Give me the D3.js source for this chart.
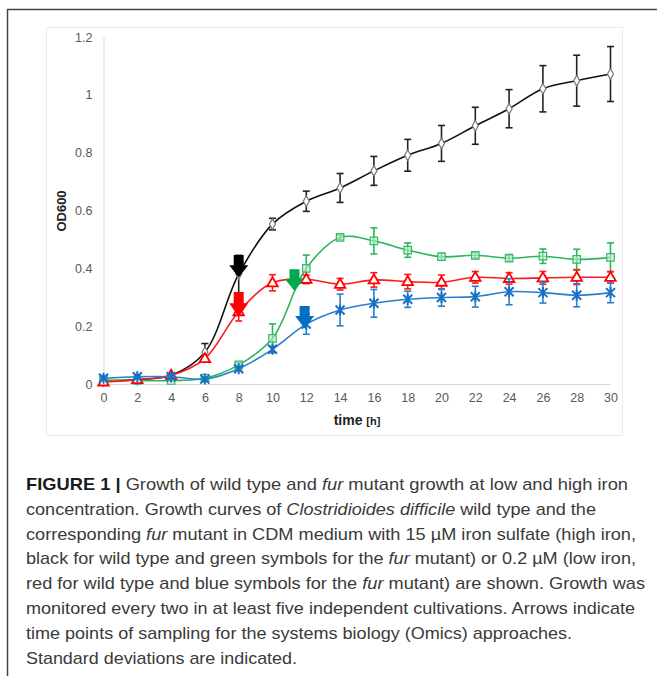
<!DOCTYPE html>
<html>
<head>
<meta charset="utf-8">
<script src="https://cdnjs.cloudflare.com/ajax/libs/d3/7.8.5/d3.min.js"></script>
<style>
  body { margin: 0; background: #fff; }
  svg { display: block; }
</style>
</head>
<body>
<div id="graph"></div>
<script>
// time points (h)
const times = [0, 2, 4, 6, 8, 10, 12, 14, 16, 18, 20, 22, 24, 26, 28, 30];

// OD600 means and standard deviations
const wtHigh   = [0.01, 0.015, 0.03, 0.11, 0.38, 0.553, 0.632, 0.678, 0.737, 0.791, 0.832, 0.893, 0.952, 1.021, 1.049, 1.072];
const wtHighSd = [0.005, 0.005, 0.005, 0.03, 0.065, 0.02, 0.035, 0.05, 0.05, 0.055, 0.062, 0.064, 0.066, 0.08, 0.088, 0.095];
const furHigh   = [0.014, 0.012, 0.012, 0.02, 0.066, 0.158, 0.40, 0.507, 0.495, 0.463, 0.44, 0.445, 0.435, 0.442, 0.431, 0.438];
const furHighSd = [0.003, 0.003, 0.003, 0.004, 0.008, 0.05, 0.046, 0.008, 0.045, 0.025, 0.012, 0.01, 0.01, 0.025, 0.035, 0.05];
const wtLow   = [0.007, 0.015, 0.03, 0.088, 0.25, 0.35, 0.362, 0.345, 0.36, 0.354, 0.352, 0.369, 0.365, 0.367, 0.369, 0.369];
const wtLowSd = [0.003, 0.004, 0.005, 0.01, 0.032, 0.028, 0.015, 0.02, 0.025, 0.025, 0.025, 0.02, 0.02, 0.022, 0.025, 0.02];
const furLow   = [0.02, 0.025, 0.025, 0.017, 0.053, 0.12, 0.207, 0.256, 0.279, 0.293, 0.299, 0.302, 0.319, 0.316, 0.307, 0.316];
const furLowSd = [0.004, 0.004, 0.004, 0.004, 0.006, 0.01, 0.035, 0.055, 0.048, 0.028, 0.03, 0.036, 0.045, 0.036, 0.04, 0.035];

// sampling arrows: time, top and tip in OD600
const arrowTimes = [8, 8, 11.3, 11.9];
const arrowTops  = [0.446, 0.318, 0.397, 0.27];
const arrowTips  = [0.368, 0.232, 0.322, 0.192];
const arrowColors = ["#000000", "#ff0000", "#00a84f", "#0070c0"];

const yTicks = [0, 0.2, 0.4, 0.6, 0.8, 1, 1.2];
const yTickLabels = ["0", "0.2", "0.4", "0.6", "0.8", "1", "1.2"];
const xTicks = times;

const captionLines = [
  [["b", "FIGURE 1 | "], ["", "Growth of wild type and "], ["i", "fur"], ["", " mutant growth at low and high iron"]],
  [["", "concentration. Growth curves of "], ["i", "Clostridioides difficile"], ["", " wild type and the"]],
  [["", "corresponding "], ["i", "fur"], ["", " mutant in CDM medium with 15 \u00b5M iron sulfate (high iron,"]],
  [["", "black for wild type and green symbols for the "], ["i", "fur"], ["", " mutant) or 0.2 \u00b5M (low iron,"]],
  [["", "red for wild type and blue symbols for the "], ["i", "fur"], ["", " mutant) are shown. Growth was"]],
  [["", "monitored every two in at least five independent cultivations. Arrows indicate"]],
  [["", "time points of sampling for the systems biology (Omics) approaches."]],
  [["", "Standard deviations are indicated."]]
];
// measured line widths of the caption in the figure
const captionWidths = [602, 570, 610, 610, 619, 609, 546, 271];

const width = 657, height = 676;
const svg = d3.select("#graph").append("svg")
  .attr("width", width)
  .attr("height", height)
  .style("font-family", "'Liberation Sans', Arial, sans-serif");

// outer frame (top and left rule)
svg.append("line").attr("x1", 7.5).attr("y1", 9.5).attr("x2", width).attr("y2", 9.5)
  .attr("stroke", "#444").attr("stroke-width", 1.5);
svg.append("line").attr("x1", 7.5).attr("y1", 9).attr("x2", 7.5).attr("y2", height)
  .attr("stroke", "#444").attr("stroke-width", 1.5);

// chart box
svg.append("rect").attr("x", 46.5).attr("y", 27.5).attr("width", 576).attr("height", 408)
  .attr("fill", "none").attr("stroke", "#ececec");

const xScale = d3.scaleLinear().domain([0, 30]).range([103.5, 610.5]);
const yScale = d3.scaleLinear().domain([0, 1.2]).range([384, 37]);

// axes
const xAxis = svg.append("g").attr("transform", "translate(0,384)")
  .call(d3.axisBottom(xScale).tickValues(xTicks).tickSize(0).tickPadding(9).tickFormat(d3.format("d")));
const yAxis = svg.append("g").attr("transform", "translate(103.5,0)")
  .call(d3.axisLeft(yScale).tickValues(yTicks).tickSize(0).tickPadding(11)
    .tickFormat((d, i) => yTickLabels[i]));
[xAxis, yAxis].forEach(g => {
  g.select(".domain").attr("stroke", "#d9d9d9");
  g.selectAll("text").attr("fill", "#595959").style("font-size", "12.5px")
    .style("font-family", "'Liberation Sans', Arial, sans-serif");
});

svg.append("text")
  .attr("transform", "translate(66,211) rotate(-90)")
  .attr("text-anchor", "middle")
  .attr("fill", "#222")
  .style("font-size", "13px")
  .style("font-weight", "bold")
  .text("OD600");

const xTitle = svg.append("text")
  .attr("x", 357).attr("y", 425)
  .attr("text-anchor", "middle")
  .attr("fill", "#222")
  .style("font-weight", "bold");
xTitle.append("tspan").style("font-size", "14px").text("time ");
xTitle.append("tspan").style("font-size", "11px").text("[h]");

const line = d3.line()
  .x((d, i) => xScale(times[i]))
  .y(d => yScale(d))
  .curve(d3.curveCatmullRom.alpha(0.5));

const series = [
  { values: wtHigh, sd: wtHighSd, color: "#111111", bar: "#222222", marker: "diamond", stroke: "#777", fill: "#ffffff" },
  { values: furHigh, sd: furHighSd, color: "#2bb55c", bar: "#2bb55c", marker: "square", stroke: "#33bb66", fill: "#c8ecd3" },
  { values: wtLow, sd: wtLowSd, color: "#ff1a1a", bar: "#ff1a1a", marker: "triangle", stroke: "#ff0000", fill: "#ffffff" },
  { values: furLow, sd: furLowSd, color: "#2a7fcc", bar: "#2a7fcc", marker: "star", stroke: "#1670c4", fill: "none" }
];

const plot = svg.append("g");

series.forEach(s => {
  const g = plot.append("g");
  g.append("path")
    .attr("d", line(s.values))
    .attr("fill", "none")
    .attr("stroke", s.color)
    .attr("stroke-width", 1.6);

  // error bars
  s.values.forEach((v, i) => {
    const x = xScale(times[i]);
    const y1 = yScale(v + s.sd[i]);
    const y2 = yScale(v - s.sd[i]);
    g.append("line").attr("x1", x).attr("x2", x).attr("y1", y1).attr("y2", y2)
      .attr("stroke", s.bar).attr("stroke-width", 1.6);
    [y1, y2].forEach(yy => {
      g.append("line").attr("x1", x - 3.5).attr("x2", x + 3.5).attr("y1", yy).attr("y2", yy)
        .attr("stroke", s.bar).attr("stroke-width", 1.6);
    });
  });

  // markers
  s.values.forEach((v, i) => {
    const x = xScale(times[i]), y = yScale(v);
    if (s.marker === "star") {
      const r = 4.5;
      g.append("path")
        .attr("d", `M${x - r},${y - r}L${x + r},${y + r}M${x - r},${y + r}L${x + r},${y - r}M${x},${y - r - 1}L${x},${y + r + 1}`)
        .attr("stroke", s.stroke).attr("stroke-width", 2).attr("fill", "none");
    } else {
      const type = s.marker === "diamond" ? d3.symbolDiamond
        : s.marker === "square" ? d3.symbolSquare : d3.symbolTriangle;
      const size = s.marker === "diamond" ? 32 : s.marker === "square" ? 56 : 48;
      g.append("path")
        .attr("transform", `translate(${x},${y + (s.marker === "triangle" ? 0.5 : 0)})`)
        .attr("d", d3.symbol().type(type).size(size)())
        .attr("fill", s.fill)
        .attr("fill-opacity", s.marker === "square" ? 0.6 : 1)
        .attr("stroke", s.stroke)
        .attr("stroke-width", s.marker === "triangle" ? 1.8 : 1.2);
    }
  });
});

// sampling arrows
arrowTimes.forEach((t, i) => {
  const cx = xScale(t);
  const top = yScale(arrowTops[i]);
  const tip = yScale(arrowTips[i]);
  const neck = top + (tip - top) * 0.45;
  const sw = 5, hw = 9.5;
  svg.append("path")
    .attr("d", `M${cx - sw},${top}L${cx + sw},${top}L${cx + sw},${neck}L${cx + hw},${neck}L${cx},${tip}L${cx - hw},${neck}L${cx - sw},${neck}Z`)
    .attr("fill", arrowColors[i]);
});

// caption
const cap = svg.append("g").attr("fill", "#3a3a3a").style("font-size", "17px");
captionLines.forEach((parts, li) => {
  const t = cap.append("text").attr("x", 26).attr("y", 490 + li * 24.8)
    .attr("textLength", captionWidths[li])
    .attr("lengthAdjust", "spacingAndGlyphs");
  parts.forEach(p => {
    const sp = t.append("tspan").text(p[1]);
    if (p[0] === "b") sp.style("font-weight", "bold").attr("fill", "#1a1a1a");
    if (p[0] === "i") sp.style("font-style", "italic");
  });
});
</script>
</body>
</html>
